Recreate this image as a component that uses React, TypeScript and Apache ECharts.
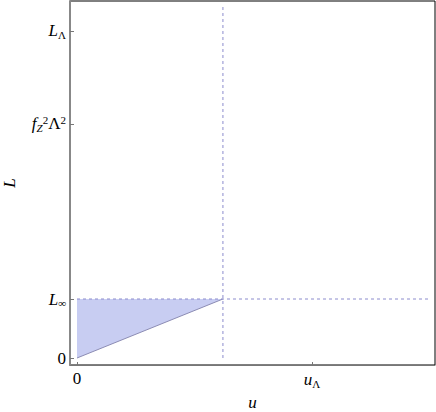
import React, { useEffect, useRef } from "react";
import * as echarts from "echarts";

// Data (normalised: u_Λ = 1, L_Λ = 1)
const uLambda = 1;
const LLambda = 1;
const uStar = 0.621;
const LStar = 0.1804;
const fZLambda2 = 0.7156;
const hLineEnd = 1.494;
const vLineTop = 1.0765;

const xTickValues = [0, uLambda];
const xTickLabels = ["{n|0}", "{i|u}{sub|Λ}"];
const yTickValues = [0, LStar, fZLambda2, LLambda];
const yTickLabels = [
  "{n|0}",
  "{i|L}{subi|∞}",
  "{i|f}{subi|Z}{sup|2}{n|Λ}{sup|2}",
  "{i|L}{sub|Λ}",
];

const triangle = [
  [0, 0],
  [uStar, LStar],
  [0, LStar],
];
const lowerEdge = [
  [0, 0],
  [uStar, LStar],
];
const hLine = [
  [0, LStar],
  [hLineEnd, LStar],
];
const vLine = [
  [uStar, 0],
  [uStar, vLineTop],
];

const FONT = "'Liberation Serif', 'Times New Roman', serif";
const rich = {
  i: { fontFamily: FONT, fontStyle: "italic", fontSize: 17, color: "#000" },
  n: { fontFamily: FONT, fontSize: 17, color: "#000" },
  sub: { fontFamily: FONT, fontSize: 11, color: "#000", verticalAlign: "bottom", padding: [8, 0, 0, 0] },
  subi: { fontFamily: FONT, fontStyle: "italic", fontSize: 11, color: "#000", verticalAlign: "bottom", padding: [8, 0, 0, 0] },
  sup: { fontFamily: FONT, fontSize: 11, color: "#000", verticalAlign: "top", padding: [0, 0, 8, 0] },
};

function labelFor(values: number[], labels: string[], v: number) {
  for (let k = 0; k < values.length; k++) {
    if (Math.abs(values[k] - v) < 1e-6) return labels[k];
  }
  return "";
}

export default function App() {
  const ref = useRef<HTMLDivElement>(null);
  useEffect(() => {
    if (!ref.current) return;
    const chart = echarts.init(ref.current, undefined, { renderer: "svg" });
    const dashColor = "rgb(140,140,205)";
    chart.setOption({
      animation: false,
      backgroundColor: "#fff",
      grid: {
        left: 70,
        right: 1,
        top: 1,
        bottom: 47,
        show: true,
        containLabel: false,
        outerBoundsMode: "none",
        borderColor: "#000",
        borderWidth: 1,
        backgroundColor: "transparent",
      },
      xAxis: {
        type: "value",
        min: -0.0298,
        max: 1.5234,
        name: "u",
        nameLocation: "middle",
        nameGap: 26,
        nameTextStyle: { fontFamily: FONT, fontStyle: "italic", fontSize: 17, color: "#000" },
        axisLine: { show: true, onZero: false, lineStyle: { color: "#777", width: 1 } },
        axisTick: { show: true, inside: true, length: 3, customValues: xTickValues, lineStyle: { color: "#777" } },
        axisLabel: {
          customValues: xTickValues,
          margin: 5,
          fontFamily: FONT,
          fontSize: 17,
          color: "#000",
          rich,
          formatter: (v: number) => labelFor(xTickValues, xTickLabels, v),
        },
        splitLine: { show: false },
      },
      yAxis: {
        type: "value",
        min: -0.0214,
        max: 1.0917,
        name: "L",
        nameLocation: "middle",
        nameGap: 52,
        nameRotate: 90,
        nameTextStyle: { fontFamily: FONT, fontStyle: "italic", fontSize: 17, color: "#000" },
        axisLine: { show: true, onZero: false, lineStyle: { color: "#888", width: 2 } },
        axisTick: { show: true, inside: true, length: 4, customValues: yTickValues, lineStyle: { color: "#777" } },
        axisLabel: {
          customValues: yTickValues,
          margin: 4,
          fontFamily: FONT,
          fontSize: 17,
          color: "#000",
          rich,
          formatter: (v: number) => labelFor(yTickValues, yTickLabels, v),
        },
        splitLine: { show: false },
      },
      series: [
        {
          type: "custom",
          silent: true,
          data: [0],
          renderItem: (_params: any, api: any) => {
            const pts = triangle.map((p) => api.coord(p));
            return {
              type: "polygon",
              shape: { points: pts },
              style: { fill: "rgb(200,205,242)", stroke: "none" },
            };
          },
          z: 1,
        },
        {
          type: "line",
          data: lowerEdge,
          symbol: "none",
          lineStyle: { color: "rgb(140,140,180)", width: 1 },
          z: 2,
        },
        {
          type: "line",
          data: hLine,
          symbol: "none",
          lineStyle: { color: dashColor, width: 1, type: [3, 3] },
          z: 3,
        },
        {
          type: "line",
          data: vLine,
          symbol: "none",
          lineStyle: { color: dashColor, width: 1, type: [3, 3] },
          z: 3,
        },
      ],
    });
    return () => chart.dispose();
  }, []);
  return (
    <div
      ref={ref}
      style={{ position: "fixed", left: 0, top: 0, width: 436, height: 412 }}
    />
  );
}
